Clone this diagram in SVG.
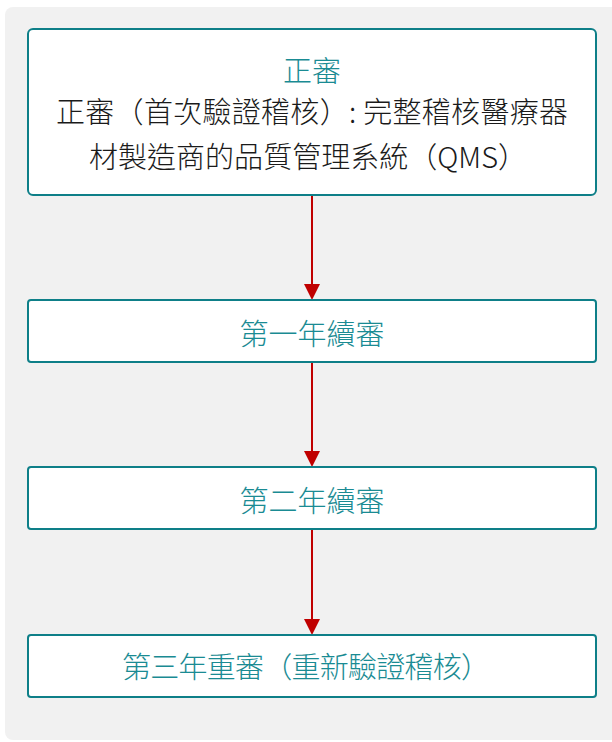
<svg xmlns="http://www.w3.org/2000/svg" width="612" height="742" viewBox="0 0 612 742">
<defs>
<style>
.bg{fill:#f1f1f1}
.box{fill:#ffffff;stroke:#0e7f88;stroke-width:2}
.t{font-family:"Noto Sans CJK TC","Noto Sans CJK SC",sans-serif;font-size:29px;font-weight:300;text-anchor:middle}
.teal{fill:#1a8b93}
.dark{fill:#1a1a1a}
.conn{stroke:#c00000;stroke-width:2;fill:none}
.head{fill:#c00000}
</style>
</defs>
<rect class="bg" x="5" y="7" width="620" height="733" rx="8"/>
<g id="connectors">
<line class="conn" x1="312" y1="195" x2="312" y2="286"/>
<path class="head" d="M304,284 L320,284 L312,300 Z"/>
<line class="conn" x1="312" y1="362" x2="312" y2="453"/>
<path class="head" d="M304,451 L320,451 L312,467 Z"/>
<line class="conn" x1="312" y1="529" x2="312" y2="621"/>
<path class="head" d="M304,619 L320,619 L312,635 Z"/>
</g>
<g id="node1">
<rect class="box" x="28" y="29" width="568" height="166" rx="5"/>
<text class="t teal" x="312" y="82">正審</text>
<text class="t dark" x="312" y="123" textLength="512" lengthAdjust="spacing">正審（首次驗證稽核）: 完整稽核醫療器</text>
<text class="t dark" x="308" y="168" textLength="438" lengthAdjust="spacing">材製造商的品質管理系統（QMS）</text>
</g>
<g id="node2">
<rect class="box" x="28" y="300" width="568" height="62" rx="3"/>
<text class="t teal" x="312" y="345">第一年續審</text>
</g>
<g id="node3">
<rect class="box" x="28" y="467" width="568" height="62" rx="3"/>
<text class="t teal" x="312" y="512">第二年續審</text>
</g>
<g id="node4">
<rect class="box" x="28" y="635" width="568" height="62" rx="3"/>
<text class="t teal" x="306" y="678" textLength="368" lengthAdjust="spacing">第三年重審（重新驗證稽核）</text>
</g>
</svg>
